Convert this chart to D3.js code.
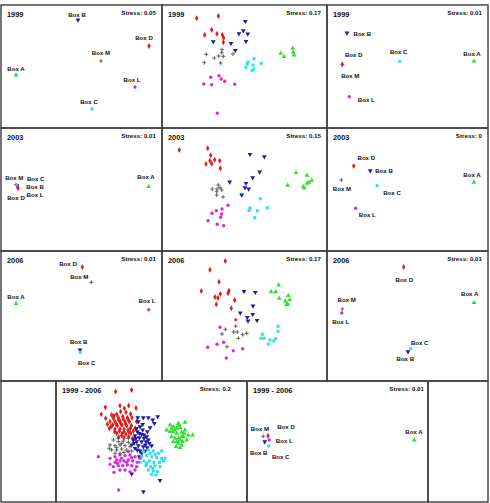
<!DOCTYPE html>
<meta charset="utf-8">
<style>
  body { margin: 0; background: #fff; }
  svg { display: block; }
  text { font-family: 'Liberation Sans', Arial, sans-serif; font-weight: bold; fill: #111; }
  .title { font-size: 7.4px; }
  .stress { font-size: 6.2px; }
  .label { font-size: 6.1px; }
  .frame { fill: none; stroke: #3c3c3c; stroke-width: 1.4; }
</style>
<svg width="490" height="503"></svg>
<script src="https://d3js.org/d3.v7.min.js"></script>
<script>

// groups, in the order used by the box panels
var groups = ["A", "B", "C", "D", "L", "M"];
var boxNames = ["Box A", "Box B", "Box C", "Box D", "Box L", "Box M"];

var titles = ["1999", "1999", "1999", "2003", "2003", "2003", "2006", "2006", "2006", "1999 - 2006", "1999 - 2006"];
var stressValues = ["0.05", "0.17", "0.01", "0.01", "0.15", "0", "0.01", "0.17", "0.01", "0.2", "0.01"];

// box centroid ordinations (A, B, C, D, L, M), panel units
var box1999a = [[15,70],[77,15],[91,104],[148,41],[134,82],[100,56]];
var box1999b = [[147,56],[20,28],[72.7,56.3],[15.3,59.3],[22.3,91.7],[15.5,59.6]];
var box2003a = [[147.7,58.7],[16,57.5],[15.7,57],[17,60.3],[16.7,58.7],[15,56.5]];
var box2003b = [[147,54.3],[43.3,42.7],[50,57.7],[26.7,38],[28.7,80.3],[14.3,52]];
var box2006a = [[15,52.7],[79,99],[79.3,101.3],[81.3,16],[147.7,58.7],[90.3,31.3]];
var box2006b = [[147,51.7],[81,100.7],[83.7,97.7],[76.7,16],[14.7,62],[15.3,58]];
var boxAll = [[167.3,59],[17.7,60.7],[21.7,65],[21,54.7],[22.3,59],[16.3,55.3]];

// sample ordinations: [group, x, y]
var samples1999 = [
  ["D",34.7,13.3],["D",56.3,11],["D",42.7,30],["D",49.7,24.7],["D",55,28.7],["D",60.3,30],["D",61.7,33],["D",61.3,37.3],
  ["B",83.3,16.3],["B",81.3,25.7],["B",77,28.7],["B",85.7,29],["B",84,36.3],["B",51.3,36.7],["B",69,38.3],["B",73.3,45.3],
  ["M",44.3,49.3],["M",60,44.7],["M",59.7,47.7],["M",56.7,51],["M",52.3,53],["M",61.3,51.3],["M",42.3,57.7],["M",58.7,58],["M",71,49],
  ["C",92,53.7],["C",86,57],["C",85.3,59],["C",91,60],["C",99.3,58.3],["C",84,62.3],["C",91.7,64],["C",90,65.7],
  ["A",130.7,43.3],["A",131.3,47.3],["A",118.7,48.3],["A",122,51.7],["A",132,50],
  ["L",48.7,72.3],["L",57,70.7],["L",59.3,74],["L",62.7,76.3],["L",41.7,79],["L",49.7,79.7],["L",72.7,79.3],["L",55.3,108.3]
];
var samples2003 = [
  ["D",17.3,22],["D",45.7,20.3],["D",48.7,27.3],["D",48,32.7],["D",52.7,31.7],["D",57.7,32.7],["D",44,36],["D",49.7,35.7],["D",58.3,40.3],
  ["B",88,26.3],["B",102.3,28.7],["B",97.7,44],["B",90.7,49.7],["B",67.7,54],["B",84,55.3],["B",83,59.7],["B",86.7,61],["B",79.7,67],
  ["M",56.3,57],["M",50.3,61],["M",55,61],["M",58,59.7],["M",59.7,62],["M",54.7,63.7],["M",54.7,67],["M",61,69],
  ["C",98.3,70.7],["C",88,80],["C",87,82.7],["C",95.3,82.7],["C",105.3,79.7],["C",92.7,89.7],
  ["A",134,44.7],["A",145,47.3],["A",149.7,52.3],["A",125.7,57.3],["A",141.3,58.7],["A",145,55.3],["A",147,54.3],["A",142.3,60],
  ["L",66,77.3],["L",54.3,82.7],["L",60,81],["L",50,85.3],["L",59.7,86],["L",58.7,89.3],["L",46,92.7],["L",55.3,96.3],["L",61.7,97.7]
];
var samples2006 = [
  ["D",63.3,10],["D",48,18.7],["D",57,30.7],["D",39.3,40],["D",67,39.7],["D",66,42.3],["D",58.3,43],["D",53,46],["D",56,47],["D",72.7,49.3],["D",54.3,53.3],["D",69.3,57.3],
  ["B",82,40.3],["B",93.3,41.3],["B",91,55],["B",78.3,62],["B",90.7,63.3],["B",85.3,66.3],["B",86,70],["B",95,69.3],
  ["A",116.7,34],["A",109,40.7],["A",113.7,40.7],["A",126.3,44.7],["A",117.3,47.3],["A",127.7,48.7],["A",123.3,50],["A",125.7,53.3],["A",124.5,53.5],
  ["M",73.7,75],["M",63.3,78.3],["M",71.7,81],["M",75.3,81],["M",60,83],["M",80.7,83.7],["M",84.7,82.3],["M",76.3,87.3],["M",65,95.7],
  ["L",73.7,68.7],["L",58,76.3],["L",61.7,91.3],["L",55,93.3],["L",45.7,96.3],["L",80.7,97.7],["L",71.3,99.7],["L",64.3,107],
  ["C",116,75.3],["C",116,80.3],["C",100.3,83.3],["C",99,87.3],["C",102,87.3],["C",113.7,87.7],["C",108,89],["C",111.7,90],["C",106.3,93]
];

// all years together (own units)
var allD = [[347,50],[395,45],[316,97],[304,118],[360,92],[386,92],[408,99],[373,100],[335,120],[350,118],[362,110],[378,112],[392,117],[340,130],[355,128],[368,125],[382,128],[396,128],[330,140],[345,140],[360,138],[375,140],[388,140],[338,150],[352,152],[366,150],[380,152],[394,152],[328,160],[345,163],[360,162],[372,163],[384,165],[350,175],[366,175],[378,178],[392,175],[356,186],[372,188],[386,185],[398,190],[406,160],[410,140],[317,130],[322,148],[342,122],[356,135],[370,132],[385,135],[333,155],[348,147],[362,145],[377,147],[391,160],[358,168],[372,170],[386,170],[400,168],[344,170],[365,182]];
var allB = [[473,125],[430,128],[445,128],[458,135],[413,128],[450,158],[395,297],[480,316],[430,350],[463,145],[415,140],[420,155],[428,165],[412,170],[425,178],[405,182],[418,188],[432,190],[440,185],[410,200],[425,200],[438,200],[448,205],[415,212],[430,215],[442,218],[405,220],[420,228],[435,228],[455,212],[400,195],[395,210],[442,170],[410,160],[418,175],[432,180],[402,205],[412,225],[425,235],[445,195],[436,210],[418,245],[408,190],[428,148]];
var allA = [[510,150],[520,155],[535,145],[555,142],[540,158],[525,165],[510,170],[530,175],[545,172],[555,165],[515,185],[535,190],[550,185],[565,180],[520,200],[535,205],[548,200],[528,215],[540,218],[578,180],[500,165],[560,195],[545,210],[538,150],[518,170],[530,160],[545,185],[525,190],[540,195],[552,175],[515,160],[530,200]];
var allC = [[430,230],[445,225],[460,228],[475,235],[485,228],[425,245],[440,242],[455,245],[470,248],[485,250],[432,258],[448,258],[462,262],[478,262],[490,258],[438,272],[452,275],[465,272],[480,275],[445,285],[460,288],[472,290],[455,298],[468,300],[495,250],[420,262],[450,235],[465,238],[440,265],[458,280]];
var allL = [[295,245],[356,345],[342,292],[330,250],[345,245],[360,240],[375,242],[390,240],[405,245],[330,268],[345,262],[360,258],[372,258],[385,255],[398,258],[412,262],[340,275],[355,272],[368,272],[382,270],[395,272],[410,275],[360,285],[375,285],[390,290],[405,285],[350,255],[420,250],[385,230],[365,250],[380,262],[395,248],[352,265]];
var allM = [[340,195],[355,200],[370,198],[385,202],[330,210],[345,212],[360,210],[375,212],[390,215],[335,225],[350,225],[365,222],[380,225],[395,228],[345,235],[360,235],[372,232],[355,190],[328,220],[385,190],[365,205],[350,218]];

// label placement relative to markers (dx, dy), A..M
var lab1999a = [[0,-4.2],[-1,-3.5],[-3,-5.4],[-5,-6.4],[-3,-4.8],[0,-6.1]];
var lab1999b = [[-2,-5.5],[15.3,3.3],[-1,-7],[11.4,-7.8],[17,5.5],[7.8,13.3]];
var lab2003a = [[-2.7,-7.5],[18,3.4],[19,-4.5],[-2,11.9],[17.3,10.2],[-1.7,-5]];
var lab2003b = [[-2,-5.4],[13.7,1.8],[15,9.2],[12.6,-6.5],[11.6,8.2],[0.7,10.9]];
var lab2006a = [[0,-5.2],[-1.3,-6.5],[6.4,12.6],[-14.3,-1.5],[-1.7,-6.5],[-12,-3.8]];
var lab2006b = [[-4.3,-6.5],[-2.7,9.5],[9,-4.2],[0.6,14.5],[-1,11.2],[4.4,-7.1]];
var labAll = [[-0.3,-6.1],[-6,13.2],[12,13.2],[18,-6.5],[15,2.9],[-3.3,-5.1]];

var colors = {A: "#2ee02e", B: "#1c1ca8", C: "#2fe0e0", D: "#e01e1e", L: "#dc28dc", M: "#555"};

var svg = d3.select("svg");
var rowY = [5, 128, 251, 381, 502];
var colX = [1, 162, 327, 488];
var lowX = [1, 56, 247, 428, 488];

var panels = [];
var topKinds = [
  ["box", box1999a, lab1999a], ["samp", samples1999], ["box", box1999b, lab1999b],
  ["box", box2003a, lab2003a], ["samp", samples2003], ["box", box2003b, lab2003b],
  ["box", box2006a, lab2006a], ["samp", samples2006], ["box", box2006b, lab2006b]
];
topKinds.forEach(function(k, i) {
  var r = Math.floor(i / 3), c = i % 3;
  panels.push({kind: k[0], pts: k[1], lab: k[2], x0: colX[c], x1: colX[c + 1], y0: rowY[r], y1: rowY[r + 1], sOff: 6});
});
panels.push({kind: "all", x0: lowX[1], x1: lowX[2], y0: rowY[3], y1: rowY[4], dx: [168, 741], dy: [18, 381], sOff: 16});
panels.push({kind: "box", pts: boxAll, lab: labAll, x0: lowX[2], x1: lowX[3], y0: rowY[3], y1: rowY[4], sOff: 4});

// empty corner cells of the last row
[[lowX[0], lowX[1]], [lowX[3], lowX[4]]].forEach(function(e) {
  svg.append("rect").attr("class", "frame")
    .attr("x", e[0]).attr("y", rowY[3]).attr("width", e[1] - e[0]).attr("height", rowY[4] - rowY[3]);
});

function symbolPath(g) {
  if (g === "A") return d3.symbol().type(d3.symbolTriangle).size(10)();
  if (g === "B") return d3.symbol().type(d3.symbolTriangle).size(10)();
  if (g === "C") return d3.symbol().type(d3.symbolSquare).size(9)();
  if (g === "D") return d3.symbol().type(d3.symbolDiamond).size(10)();
  if (g === "L") return d3.symbol().type(d3.symbolCircle).size(9)();
  return "M-2,0H2M0,-2V2";
}

function drawMark(g, grp, px, py) {
  var p = g.append("path")
    .attr("d", symbolPath(grp))
    .attr("transform", "translate(" + px + "," + py + ")" + (grp === "B" ? " rotate(180)" : ""));
  if (grp === "M") p.attr("fill", "none").attr("stroke", colors.M).attr("stroke-width", 0.9);
  else p.attr("fill", colors[grp]);
}

panels.forEach(function(p, i) {
  var g = svg.append("g");
  g.append("rect").attr("class", "frame")
    .attr("x", p.x0).attr("y", p.y0).attr("width", p.x1 - p.x0).attr("height", p.y1 - p.y0);

  var x = d3.scaleLinear().domain(p.dx || [0, p.x1 - p.x0]).range([p.x0, p.x1]);
  var y = d3.scaleLinear().domain(p.dy || [0, p.y1 - p.y0]).range([p.y0, p.y1]);

  if (p.kind === "box") {
    // draw M and B first so the others sit on top where they overlap
    var order = [5, 1, 0, 2, 4, 3];
    order.forEach(function(j) {
      drawMark(g, groups[j], x(p.pts[j][0]), y(p.pts[j][1]));
    });
    p.pts.forEach(function(d, j) {
      g.append("text").attr("class", "label")
        .attr("x", x(d[0]) + p.lab[j][0]).attr("y", y(d[1]) + p.lab[j][1])
        .attr("text-anchor", "middle").text(boxNames[j]);
    });
  } else if (p.kind === "samp") {
    p.pts.forEach(function(d) { drawMark(g, d[0], x(d[1]), y(d[2])); });
  } else {
    [["D", allD], ["B", allB], ["A", allA], ["C", allC], ["L", allL], ["M", allM]].forEach(function(s) {
      s[1].forEach(function(d) { drawMark(g, s[0], x(d[0]), y(d[1])); });
    });
  }

  g.append("text").attr("class", "title")
    .attr("x", p.x0 + 6).attr("y", p.y0 + 12).text(titles[i]);
  g.append("text").attr("class", "stress")
    .attr("x", p.x1 - p.sOff).attr("y", p.y0 + 10).attr("text-anchor", "end")
    .text("Stress: " + stressValues[i]);
});

</script>
